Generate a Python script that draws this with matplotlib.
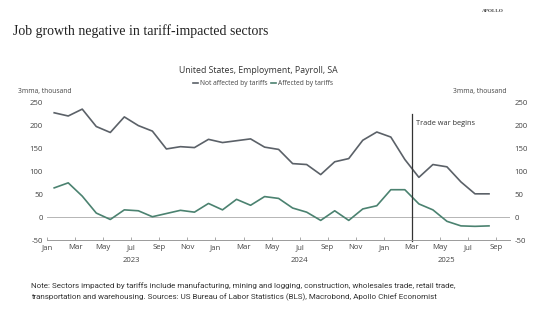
import matplotlib.pyplot as plt
import numpy as np

plt.rcParams['font.family'] = ['Open Sans', 'DejaVu Sans']
plt.rcParams['axes.unicode_minus'] = False

# monthly 3-month moving average, Jan 2023 .. Aug 2025
not_affected = [228, 221, 236, 198, 185, 219, 200, 188, 149, 154, 152, 170,
                163, 167, 171, 153, 148, 117, 115, 93, 121, 128, 168, 186,
                175, 126, 87, 115, 110, 77, 51, 51]
affected = [64, 75, 46, 9, -5, 16, 14, 1, 8, 15, 11, 30,
            16, 39, 26, 45, 41, 20, 11, -7, 14, -7, 18, 25,
            60, 60, 29, 16, -9, -19, -20, -19]
month_labels = ['Jan', 'Mar', 'May', 'Jul', 'Sep', 'Nov'] * 2 + ['Jan', 'Mar', 'May', 'Jul', 'Sep']
years = ['2023', '2024', '2025']
year_centers = [6, 18, 28.5]
trade_war_month = 26  # Mar 2025

GRAY = '#5b6168'
GREEN = '#4b8270'
TXT = '#444444'

fig = plt.figure(figsize=(5.55, 3.24), dpi=100)
ax = fig.add_axes([0.085, 0.259, 0.834, 0.424])

x = np.arange(len(not_affected)) + 0.5
ax.plot(x, not_affected, color=GRAY, lw=1.2, label='Not affected by tariffs')
ax.plot(x, affected, color=GREEN, lw=1.2, label='Affected by tariffs')
ax.axhline(0, color='#b5b5b5', lw=0.7, zorder=0)
ax.plot([trade_war_month, trade_war_month], [-53, 226], color='#333333', lw=0.9, clip_on=False)
ax.text(trade_war_month + 0.3, 204, 'Trade war begins', fontsize=5.3, color='#333333', va='center')

ax.set_xlim(0, 33)
ax.set_ylim(-50, 250)
ax.set_xticks(np.arange(0, 33, 2))
ax.set_xticklabels(month_labels)
ax.set_yticks(np.arange(-50, 251, 50))
for s in ['top', 'left', 'right']:
    ax.spines[s].set_visible(False)
ax.spines['bottom'].set_color('#9a9a9a')
ax.spines['bottom'].set_linewidth(0.7)
ax.tick_params(axis='x', direction='in', length=2, width=0.6, color='#9a9a9a',
               labelsize=5.6, labelcolor=TXT, pad=3)
ax.tick_params(axis='y', length=0, labelsize=5.6, labelcolor=TXT, pad=3,
               labelright=True)
for xc, yr in zip(year_centers, years):
    ax.text(xc, -0.125, yr, transform=ax.get_xaxis_transform(), ha='center', va='top',
            fontsize=5.6, color=TXT)

fig.text(0.023, 0.905, 'Job growth negative in tariff-impacted sectors',
         family='Liberation Serif', fontsize=10, color='#222222', va='center')
fig.text(0.888, 0.967, 'APOLLO', family='Liberation Serif', fontsize=3.8,
         color='#444444', ha='center', va='center', weight='bold')
fig.text(0.466, 0.781, 'United States, Employment, Payroll, SA', fontsize=6.3,
         color='#333333', ha='center', va='center')
fig.legend(loc='center', bbox_to_anchor=(0.474, 0.742), ncol=2, frameon=False,
           fontsize=4.8, handlelength=0.7, handletextpad=0.3, columnspacing=0.5,
           labelcolor=TXT)
fig.text(0.032, 0.718, '3mma, thousand', fontsize=4.9, color=TXT, va='center')
fig.text(0.912, 0.718, '3mma, thousand', fontsize=4.9, color=TXT, va='center', ha='right')

fig.text(0.056, 0.099, 'Note: Sectors impacted by tariffs include manufacturing, mining and logging, '
         'construction, wholesales trade, retail trade,\ntransportation and warehousing. '
         'Sources: US Bureau of Labor Statistics (BLS), Macrobond, Apollo Chief Economist',
         family='Roboto', fontsize=5.8, color='#333333', va='center', linespacing=1.7)

fig.savefig('out.png', dpi=100)
